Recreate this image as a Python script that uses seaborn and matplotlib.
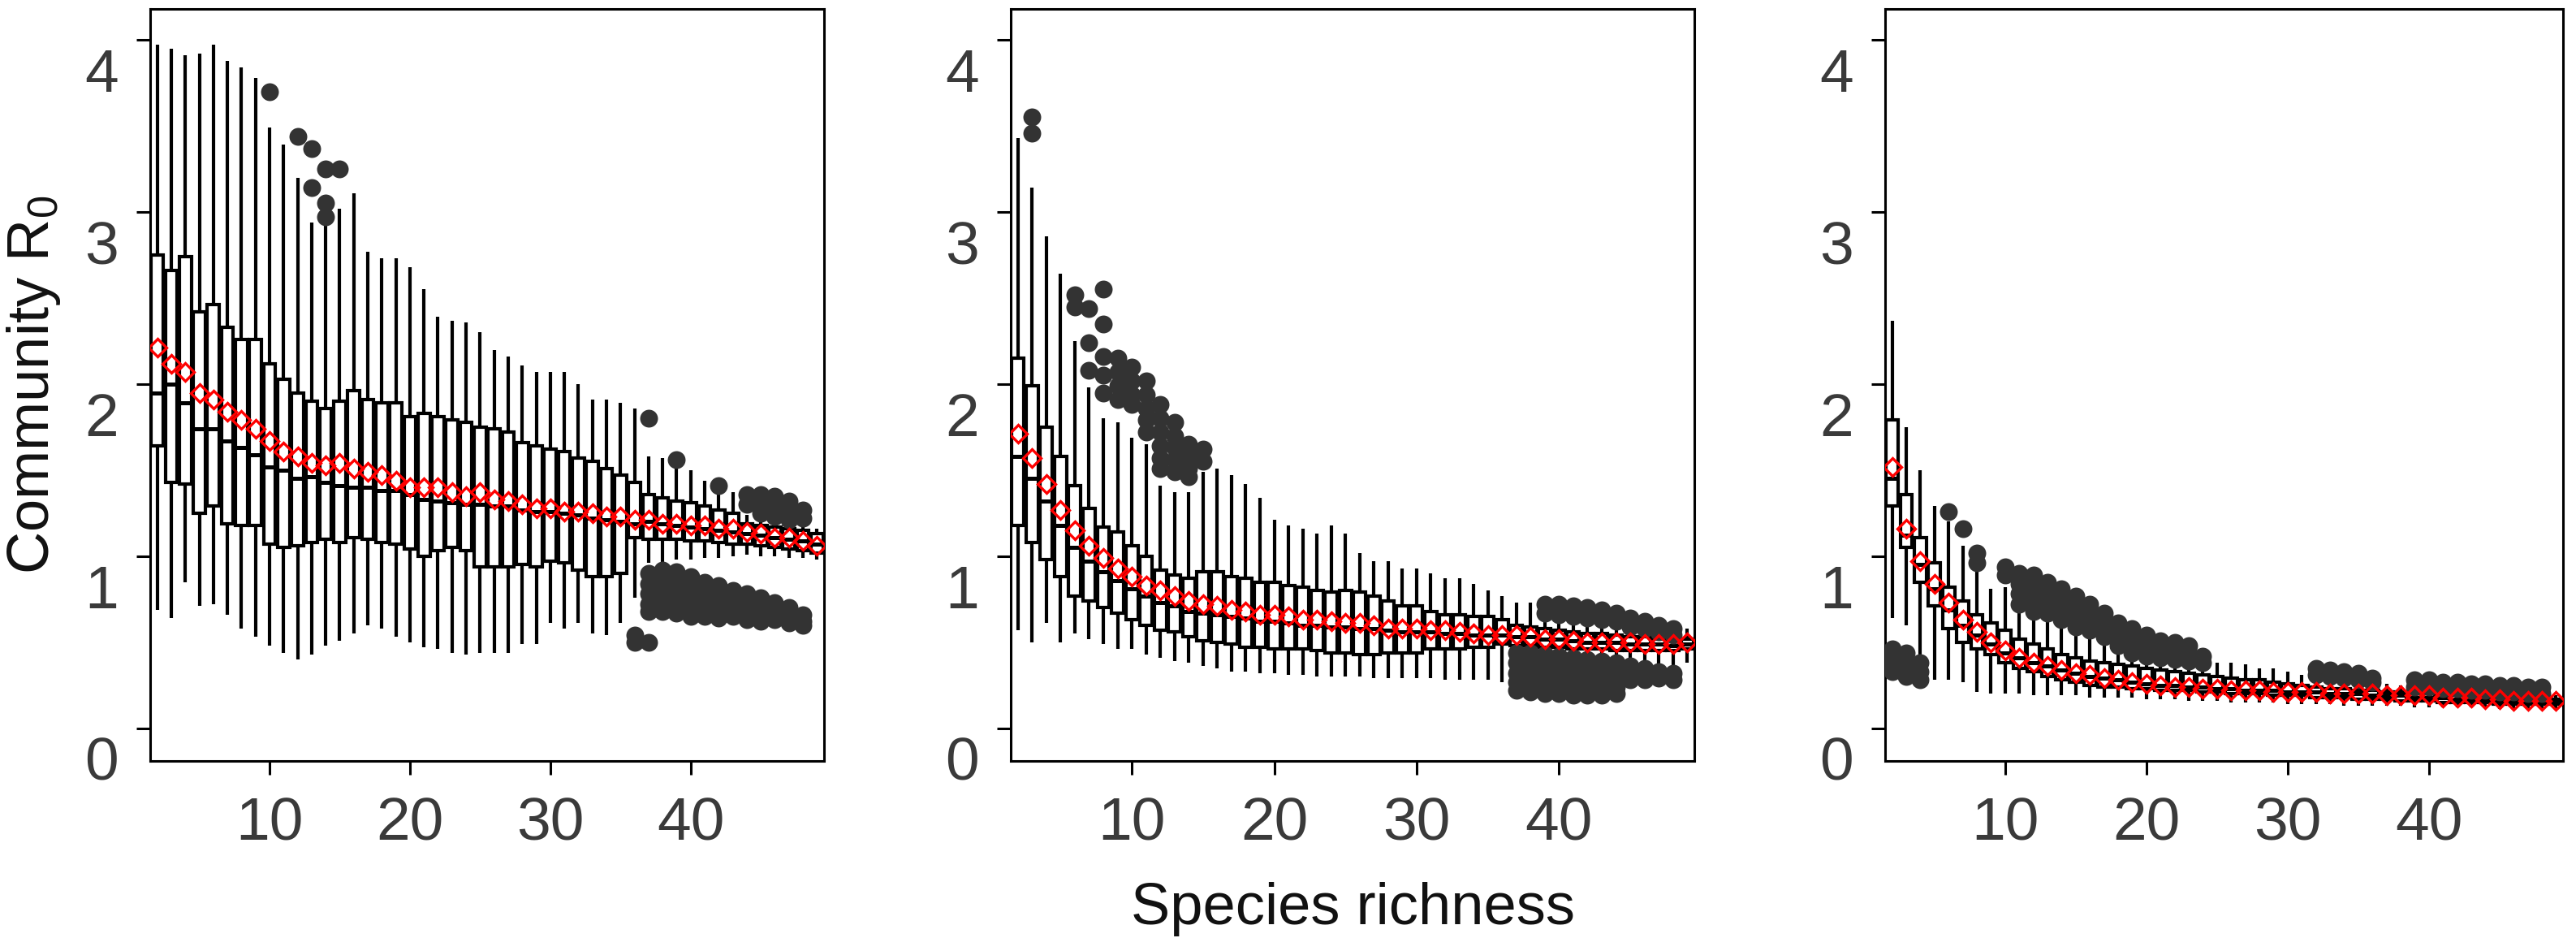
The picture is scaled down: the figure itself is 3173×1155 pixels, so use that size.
import matplotlib
matplotlib.use("Agg")
import matplotlib.pyplot as plt
import matplotlib.transforms as mtransforms
import pandas as pd
import seaborn as sns

# ----------------------------------------------------------------------
# Data (species richness 2..49, one box per value)
# ----------------------------------------------------------------------
richness = list(range(2, 50))

# Panel 1
p1_whishi = [3.97, 3.95, 3.91, 3.92, 3.97, 3.88, 3.84, 3.78, 3.49, 3.39, 3.20, 2.94,
             2.92, 3.02, 3.11, 2.77, 2.73, 2.73, 2.68, 2.55, 2.39, 2.37, 2.36, 2.30,
             2.20, 2.16, 2.11, 2.07, 2.07, 2.07, 2.00, 1.91, 1.91, 1.89, 1.86, 1.58,
             1.57, 1.52, 1.50, 1.44, 1.38, 1.37, 1.24, 1.23, 1.21, 1.19, 1.17, 1.16]
p1_q3 = [2.75, 2.66, 2.74, 2.42, 2.46, 2.33, 2.26, 2.26, 2.12, 2.03, 1.95, 1.90,
         1.86, 1.90, 1.96, 1.91, 1.89, 1.89, 1.81, 1.83, 1.81, 1.79, 1.78, 1.75,
         1.74, 1.72, 1.66, 1.64, 1.62, 1.61, 1.57, 1.55, 1.51, 1.47, 1.43, 1.36,
         1.34, 1.32, 1.31, 1.29, 1.27, 1.25, 1.19, 1.18, 1.17, 1.16, 1.15, 1.13]
p1_med = [1.95, 2.00, 1.89, 1.74, 1.74, 1.67, 1.63, 1.59, 1.52, 1.50, 1.45, 1.46,
          1.43, 1.41, 1.40, 1.40, 1.38, 1.38, 1.36, 1.33, 1.32, 1.31, 1.30, 1.30,
          1.29, 1.29, 1.27, 1.26, 1.26, 1.25, 1.24, 1.22, 1.21, 1.20, 1.19, 1.20,
          1.19, 1.18, 1.17, 1.16, 1.15, 1.14, 1.13, 1.12, 1.11, 1.10, 1.09, 1.07]
p1_q1 = [1.64, 1.43, 1.42, 1.25, 1.29, 1.19, 1.18, 1.18, 1.07, 1.05, 1.06, 1.08,
         1.10, 1.08, 1.11, 1.10, 1.08, 1.07, 1.04, 1.00, 1.03, 1.05, 1.03, 0.94,
         0.94, 0.94, 0.95, 0.94, 0.97, 0.96, 0.92, 0.88, 0.88, 0.90, 1.11, 1.10,
         1.10, 1.10, 1.09, 1.09, 1.08, 1.07, 1.07, 1.06, 1.05, 1.04, 1.03, 1.02]
p1_whislo = [0.69, 0.64, 0.85, 0.71, 0.72, 0.66, 0.58, 0.53, 0.48, 0.44, 0.40, 0.43,
             0.48, 0.51, 0.55, 0.60, 0.58, 0.53, 0.50, 0.47, 0.46, 0.44, 0.43, 0.44,
             0.44, 0.44, 0.49, 0.49, 0.61, 0.58, 0.61, 0.55, 0.54, 0.61, 0.76, 0.96,
             0.96, 0.98, 0.98, 0.99, 0.99, 1.00, 1.01, 1.00, 1.00, 0.99, 0.99, 0.98]
p1_mean = [2.21, 2.12, 2.07, 1.95, 1.91, 1.84, 1.79, 1.74, 1.67, 1.61, 1.58, 1.54,
           1.53, 1.54, 1.51, 1.49, 1.47, 1.44, 1.40, 1.40, 1.40, 1.37, 1.35, 1.37,
           1.33, 1.32, 1.30, 1.28, 1.28, 1.26, 1.26, 1.25, 1.23, 1.23, 1.21, 1.21,
           1.19, 1.19, 1.18, 1.18, 1.16, 1.16, 1.14, 1.13, 1.11, 1.11, 1.09, 1.06]
p1_outliers = {
    10: [3.70], 12: [3.44], 13: [3.37, 3.14], 14: [3.25, 3.05, 2.97], 15: [3.25],
    36: [0.54, 0.50],
    37: [1.80, 0.90, 0.84, 0.78, 0.72, 0.68, 0.50],
    38: [0.92, 0.86, 0.80, 0.74, 0.68],
    39: [1.56, 0.91, 0.85, 0.79, 0.73, 0.67],
    40: [0.88, 0.82, 0.76, 0.70, 0.65],
    41: [0.85, 0.80, 0.75, 0.70, 0.65],
    42: [1.41, 0.83, 0.78, 0.73, 0.68, 0.64],
    43: [0.80, 0.75, 0.70, 0.65],
    44: [1.36, 1.30, 0.78, 0.73, 0.68, 0.63],
    45: [1.36, 1.30, 1.25, 0.76, 0.71, 0.66, 0.62],
    46: [1.35, 1.29, 1.23, 0.73, 0.68, 0.63],
    47: [1.32, 1.26, 1.21, 0.70, 0.65, 0.61],
    48: [1.27, 1.22, 0.66, 0.62, 0.60],
}

# Panel 2
p2_whishi = [3.43, 3.14, 2.86, 2.64, 2.25, 1.98, 1.80, 1.78, 1.69, 1.65, 1.41, 1.37,
             1.37, 1.49, 1.51, 1.47, 1.42, 1.34, 1.21, 1.18, 1.16, 1.13, 1.18, 1.13,
             1.02, 0.97, 0.97, 0.93, 0.93, 0.90, 0.87, 0.87, 0.84, 0.80, 0.77, 0.73,
             0.73, 0.64, 0.63, 0.62, 0.61, 0.60, 0.59, 0.57, 0.56, 0.55, 0.53, 0.58]
p2_q3 = [2.15, 1.99, 1.75, 1.58, 1.41, 1.28, 1.17, 1.14, 1.06, 1.00, 0.92, 0.89,
         0.87, 0.91, 0.91, 0.88, 0.87, 0.85, 0.85, 0.83, 0.82, 0.80, 0.79, 0.80,
         0.79, 0.77, 0.74, 0.71, 0.71, 0.68, 0.66, 0.66, 0.65, 0.65, 0.63, 0.60,
         0.59, 0.58, 0.57, 0.56, 0.55, 0.55, 0.54, 0.53, 0.53, 0.52, 0.51, 0.52]
p2_med = [1.58, 1.45, 1.32, 1.18, 1.05, 0.97, 0.91, 0.86, 0.81, 0.77, 0.73, 0.71,
          0.68, 0.67, 0.66, 0.65, 0.64, 0.62, 0.62, 0.61, 0.60, 0.60, 0.59, 0.59,
          0.58, 0.58, 0.57, 0.56, 0.56, 0.56, 0.55, 0.55, 0.54, 0.54, 0.54, 0.53,
          0.53, 0.52, 0.52, 0.51, 0.50, 0.50, 0.50, 0.49, 0.49, 0.49, 0.48, 0.49]
p2_q1 = [1.18, 1.08, 0.98, 0.88, 0.77, 0.74, 0.70, 0.67, 0.63, 0.60, 0.57, 0.56,
         0.53, 0.51, 0.50, 0.49, 0.47, 0.47, 0.46, 0.46, 0.46, 0.45, 0.44, 0.44,
         0.43, 0.43, 0.44, 0.44, 0.44, 0.46, 0.46, 0.46, 0.47, 0.47, 0.49, 0.48,
         0.48, 0.47, 0.47, 0.46, 0.46, 0.46, 0.45, 0.45, 0.45, 0.45, 0.45, 0.46]
p2_whislo = [0.57, 0.50, 0.61, 0.50, 0.55, 0.52, 0.49, 0.46, 0.46, 0.43, 0.41, 0.39,
             0.38, 0.36, 0.35, 0.33, 0.33, 0.32, 0.32, 0.31, 0.31, 0.30, 0.30, 0.30,
             0.30, 0.29, 0.29, 0.29, 0.29, 0.29, 0.28, 0.28, 0.28, 0.28, 0.27, 0.45,
             0.45, 0.44, 0.43, 0.42, 0.41, 0.40, 0.39, 0.38, 0.37, 0.36, 0.35, 0.38]
p2_mean = [1.71, 1.57, 1.42, 1.27, 1.15, 1.06, 0.99, 0.93, 0.88, 0.83, 0.80, 0.77,
           0.74, 0.72, 0.71, 0.69, 0.68, 0.66, 0.66, 0.65, 0.63, 0.63, 0.62, 0.61,
           0.61, 0.60, 0.58, 0.58, 0.58, 0.57, 0.57, 0.56, 0.55, 0.54, 0.54, 0.54,
           0.53, 0.52, 0.52, 0.51, 0.50, 0.50, 0.50, 0.50, 0.49, 0.49, 0.49, 0.50]
p2_outliers = {
    3: [3.55, 3.46],
    6: [2.52, 2.45],
    7: [2.44, 2.24, 2.08],
    8: [2.55, 2.35, 2.16, 2.05, 1.95],
    9: [2.15, 2.07, 1.99, 1.91],
    10: [2.10, 2.02, 1.94, 1.88],
    11: [2.02, 1.94, 1.86, 1.79, 1.72],
    12: [1.88, 1.80, 1.72, 1.64, 1.57, 1.51],
    13: [1.78, 1.70, 1.63, 1.56, 1.49],
    14: [1.65, 1.58, 1.51, 1.46],
    15: [1.62, 1.55],
    37: [0.44, 0.38, 0.32, 0.27, 0.22],
    38: [0.44, 0.38, 0.32, 0.27, 0.21],
    39: [0.72, 0.67, 0.43, 0.37, 0.31, 0.26, 0.20],
    40: [0.72, 0.66, 0.42, 0.36, 0.31, 0.25, 0.20],
    41: [0.71, 0.65, 0.41, 0.35, 0.30, 0.24, 0.19],
    42: [0.70, 0.64, 0.40, 0.35, 0.29, 0.24, 0.19],
    43: [0.69, 0.63, 0.39, 0.34, 0.29, 0.24, 0.19],
    44: [0.67, 0.62, 0.38, 0.33, 0.28, 0.24, 0.20],
    45: [0.64, 0.59, 0.36, 0.32, 0.28],
    46: [0.62, 0.58, 0.35, 0.31, 0.28],
    47: [0.60, 0.56, 0.33, 0.29],
    48: [0.58, 0.54, 0.32, 0.28],
}

# Panel 3
p3_whishi = [2.37, 1.75, 1.50, 1.29, 1.20, 1.06, 0.91, 0.81, 0.82, 0.69, 0.65, 0.62,
             0.58, 0.55, 0.52, 0.49, 0.45, 0.42, 0.39, 0.37, 0.36, 0.35, 0.34, 0.38,
             0.38, 0.37, 0.35, 0.35, 0.33, 0.31, 0.27, 0.27, 0.26, 0.25, 0.24, 0.26,
             0.25, 0.22, 0.22, 0.22, 0.21, 0.21, 0.21, 0.20, 0.20, 0.19, 0.18, 0.19]
p3_q3 = [1.79, 1.36, 1.11, 0.96, 0.82, 0.74, 0.66, 0.61, 0.57, 0.52, 0.49, 0.46,
         0.43, 0.41, 0.39, 0.38, 0.37, 0.36, 0.35, 0.34, 0.33, 0.32, 0.31, 0.30,
         0.29, 0.28, 0.28, 0.27, 0.26, 0.25, 0.24, 0.23, 0.23, 0.22, 0.22, 0.21,
         0.21, 0.20, 0.20, 0.19, 0.19, 0.19, 0.18, 0.18, 0.18, 0.17, 0.17, 0.17]
p3_med = [1.45, 1.12, 0.95, 0.81, 0.69, 0.60, 0.54, 0.49, 0.44, 0.41, 0.38, 0.36,
          0.34, 0.32, 0.30, 0.29, 0.28, 0.27, 0.26, 0.25, 0.25, 0.24, 0.24, 0.23,
          0.23, 0.22, 0.22, 0.22, 0.21, 0.21, 0.21, 0.20, 0.20, 0.20, 0.19, 0.19,
          0.19, 0.18, 0.18, 0.18, 0.17, 0.17, 0.17, 0.16, 0.16, 0.16, 0.16, 0.15]
p3_q1 = [1.29, 1.05, 0.85, 0.71, 0.58, 0.50, 0.46, 0.43, 0.38, 0.35, 0.33, 0.30,
         0.28, 0.27, 0.25, 0.24, 0.24, 0.23, 0.23, 0.22, 0.22, 0.22, 0.21, 0.21,
         0.20, 0.20, 0.20, 0.19, 0.19, 0.19, 0.18, 0.18, 0.18, 0.17, 0.17, 0.17,
         0.16, 0.16, 0.16, 0.15, 0.15, 0.15, 0.15, 0.14, 0.14, 0.14, 0.14, 0.14]
p3_whislo = [0.64, 0.60, 0.42, 0.28, 0.28, 0.27, 0.21, 0.20, 0.20, 0.20, 0.19, 0.19,
             0.19, 0.19, 0.18, 0.18, 0.18, 0.18, 0.17, 0.17, 0.17, 0.16, 0.16, 0.16,
             0.15, 0.15, 0.15, 0.15, 0.14, 0.14, 0.14, 0.14, 0.13, 0.13, 0.13, 0.13,
             0.13, 0.12, 0.12, 0.12, 0.12, 0.12, 0.12, 0.11, 0.11, 0.11, 0.11, 0.11]
p3_mean = [1.52, 1.16, 0.97, 0.84, 0.73, 0.63, 0.56, 0.50, 0.45, 0.41, 0.38, 0.36,
           0.34, 0.32, 0.31, 0.29, 0.28, 0.27, 0.26, 0.25, 0.24, 0.24, 0.23, 0.23,
           0.22, 0.22, 0.22, 0.21, 0.21, 0.21, 0.21, 0.20, 0.20, 0.20, 0.20, 0.19,
           0.19, 0.19, 0.19, 0.18, 0.18, 0.18, 0.17, 0.17, 0.16, 0.16, 0.16, 0.16]
p3_outliers = {
    2: [0.46, 0.41, 0.36, 0.33],
    3: [0.44, 0.39, 0.34, 0.30],
    4: [0.38, 0.33, 0.28],
    6: [1.26], 7: [1.16], 8: [1.02, 0.96], 10: [0.94, 0.89],
    11: [0.90, 0.84, 0.78, 0.72],
    12: [0.89, 0.83, 0.77, 0.71, 0.68],
    13: [0.85, 0.79, 0.73, 0.67],
    14: [0.81, 0.75, 0.69, 0.63],
    15: [0.77, 0.71, 0.65, 0.59],
    16: [0.72, 0.67, 0.62, 0.57],
    17: [0.67, 0.62, 0.57, 0.53],
    18: [0.61, 0.56, 0.51, 0.48],
    19: [0.58, 0.53, 0.48, 0.44],
    20: [0.54, 0.49, 0.44, 0.42],
    21: [0.51, 0.46, 0.41],
    22: [0.50, 0.45, 0.40],
    23: [0.48, 0.43, 0.39],
    24: [0.42, 0.38],
    32: [0.35, 0.31], 33: [0.34, 0.30], 34: [0.33, 0.29], 35: [0.32, 0.28], 36: [0.29, 0.27],
    39: [0.28, 0.24], 40: [0.28, 0.24], 41: [0.27, 0.23], 42: [0.27, 0.23],
    43: [0.26, 0.22], 44: [0.26, 0.22], 45: [0.25, 0.21], 46: [0.25, 0.21],
    47: [0.24, 0.20], 48: [0.24, 0.20],
}

panels = [
    (p1_whislo, p1_q1, p1_med, p1_q3, p1_whishi, p1_mean, p1_outliers),
    (p2_whislo, p2_q1, p2_med, p2_q3, p2_whishi, p2_mean, p2_outliers),
    (p3_whislo, p3_q1, p3_med, p3_q3, p3_whishi, p3_mean, p3_outliers),
]

x_ticks = [10, 20, 30, 40]
y_ticks = [0, 1, 2, 3, 4]

# ----------------------------------------------------------------------
# Style
# ----------------------------------------------------------------------
sns.set_style("ticks")
plt.rcParams["font.family"] = ["Liberation Sans", "DejaVu Sans"]
plt.rcParams["mathtext.fontset"] = "custom"
plt.rcParams["mathtext.rm"] = "Liberation Sans"
plt.rcParams["mathtext.it"] = "Liberation Sans:italic"
plt.rcParams["mathtext.default"] = "regular"

W, H = 3173, 1155
fig = plt.figure(figsize=(W / 100, H / 100), dpi=100)
fig.patch.set_facecolor("white")

# axes frames in pixels: (left, right), shared top/bottom
frames = [(185, 1015), (1245, 2087), (2322, 3157)]
top_px, bot_px = 11, 937

lw = 3.0
label_off = mtransforms.ScaledTranslation(0, -0.37, fig.dpi_scale_trans)

axes = []
for (left, right), (wlo, q1, med, q3, whi, mean, outl) in zip(frames, panels):
    ax = fig.add_axes([left / W, (H - bot_px) / H, (right - left) / W, (bot_px - top_px) / H])
    axes.append(ax)

    stats = []
    for i, k in enumerate(richness):
        stats.append(dict(whislo=wlo[i], q1=q1[i], med=med[i], q3=q3[i],
                          whishi=whi[i], mean=mean[i], fliers=[], label=str(k)))
    ax.bxp(stats, positions=richness, widths=0.85, showcaps=False, showfliers=False,
           patch_artist=True, manage_ticks=False,
           boxprops=dict(facecolor="white", edgecolor="black", linewidth=lw),
           whiskerprops=dict(color="black", linewidth=lw, solid_capstyle="butt"),
           medianprops=dict(color="black", linewidth=lw + 0.6))

    # outliers
    rows = [(k, v) for k, vals in outl.items() for v in vals]
    df_out = pd.DataFrame(rows, columns=["richness", "R0"])
    sns.scatterplot(data=df_out, x="richness", y="R0", ax=ax, color="#333333",
                    s=250, linewidth=0, zorder=3, legend=False)

    # means (red hollow diamonds)
    df_mean = pd.DataFrame({"richness": richness, "R0": mean})
    sns.lineplot(data=df_mean, x="richness", y="R0", ax=ax, color="red",
                 linestyle="none", marker="D", markersize=11.5,
                 markerfacecolor="none", markeredgecolor="red",
                 markeredgewidth=2.4, zorder=4)

    ax.set_xlim(1.5, 49.5)
    ax.set_ylim(-0.19, 4.18)
    ax.set_xticks(x_ticks)
    ax.set_xticklabels([str(t) for t in x_ticks])
    ax.set_yticks(y_ticks)
    ax.set_yticklabels([str(t) for t in y_ticks])
    ax.set_xlabel("")
    ax.set_ylabel("")
    ax.grid(False)
    for sp in ax.spines.values():
        sp.set_visible(True)
        sp.set_linewidth(2.2)
        sp.set_color("black")
    ax.tick_params(axis="both", length=12, width=2.2, color="black",
                   labelsize=54, labelcolor="#3a3a3a")
    ax.tick_params(axis="x", pad=19)
    ax.tick_params(axis="y", pad=16)
    for lab in ax.get_yticklabels():
        lab.set_transform(lab.get_transform() + label_off)

fig.text(42 / W, 1 - 474 / H, "Community R$_0$", rotation=90, ha="center", va="center",
         fontsize=52, color="#111111")
fig.text((frames[1][0] + frames[1][1]) / 2 / W, 1 - 1138 / H, "Species richness",
         ha="center", va="baseline", fontsize=52, color="#111111")

fig.savefig("out.png", dpi=100, facecolor="white")
